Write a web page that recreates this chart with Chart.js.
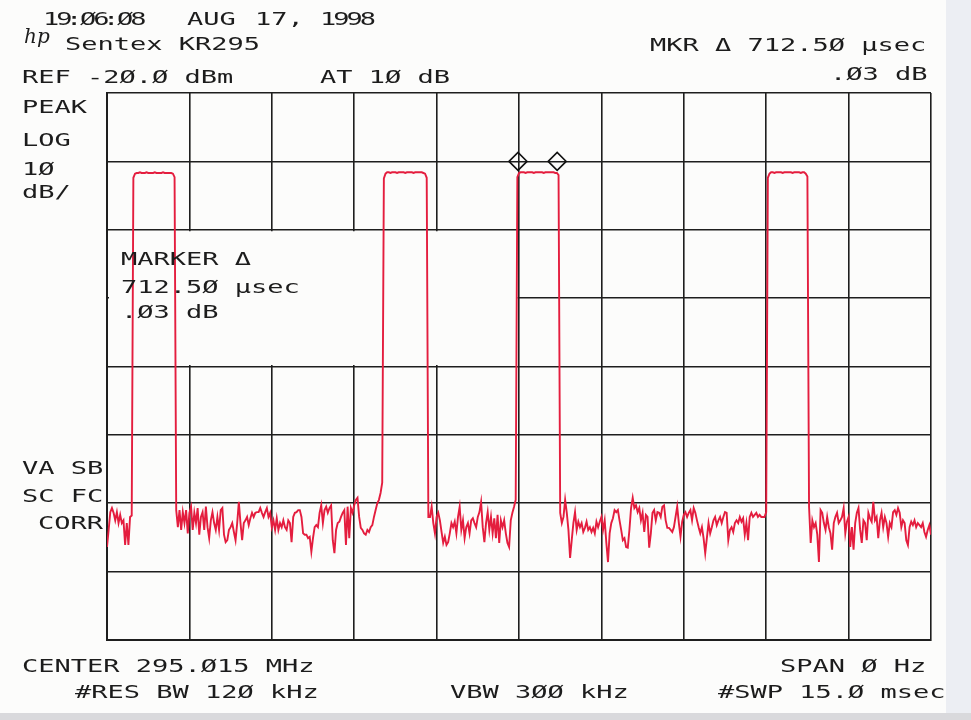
<!DOCTYPE html>
<html>
<head>
<meta charset="utf-8">
<script src="https://cdn.jsdelivr.net/npm/chart.js@4/dist/chart.umd.min.js"></script>
<style>
  html, body { margin:0; padding:0; background:#fcfcfb; }
  #wrap { position:relative; width:971px; height:720px; overflow:hidden; background:#fcfcfb; }
  #strip { position:absolute; left:946px; top:0; width:25px; height:720px; background:#eceef3; }
  #bottom { position:absolute; left:0; top:713px; width:971px; height:7px; background:#d9d9dc; }
  canvas { position:absolute; left:0; top:0; }
  .lbl { position:absolute; font-family:'DejaVu Sans Mono', monospace; font-size:18px; line-height:18px;
         color:#1c1c1c; white-space:pre; transform:scaleX(1.5); transform-origin:0 0; }
  .tight { letter-spacing:-2px; }
  .logo { position:absolute; font-family:'DejaVu Serif', serif; font-style:italic; font-size:20px; line-height:20px; color:#1c1c1c; }
  .edge { position:absolute; background:#1e1e1e; width:2px; }
</style>
</head>
<body>
<div id="wrap">
  <div id="strip"></div>
  <div id="bottom"></div>
  <canvas id="c" width="971" height="720"></canvas>
</div>
<script>
// ---- Instrument settings ----
const sweepMs = 15;          // #SWP 15.0 msec, SPAN 0 Hz (time domain)
const refLevelDbm = -20;     // REF -20.0 dBm
const dbPerDiv = 10;         // LOG 10 dB/
const xDivisions = 10;
const yDivisions = 8;

// ---- Trace (sweep points), dBm ----
const noiseStart = [-86.4,-83.9,-81.3,-80.7,-81.4,-82.5,-81.3,-82.9,-81.7,-82.9,-82.5,-86.1,-82.9,-86.1,-82.0,-81.8];
const pulse1 = [-32.4,-31.8,-31.7,-31.7,-31.6,-31.7,-31.7,-31.7,-31.6,-31.7,-31.7,-31.7,-31.7,-31.6,-31.7,-31.7,-31.7,-31.7,-31.6,-31.7,-31.7,-31.7,-31.7,-31.7,-31.8,-32.3];
const noiseA = [-81.0,
  -83.5,-81.0,-83.9,-81.3,-82.9,-81.0,-84.4,-81.4,-80.5,-83.9,
  -81.4,-82.9,-80.7,-84.6,-82.0,-81.3,-83.9,-80.5,-83.5,-85.1,
  -82.5,-81.3,-82.9,-83.9,-82.0,-83.9,-81.0,-80.7,-84.6,-85.7,
  -85.4,-83.9,-83.5,-82.9,-84.2,-85.4,-82.9,-79.8,-82.9,-85.4,
  -82.9,-82.5,-82.0,-83.2,-82.2,-81.4,-82.0,-81.4,-81.3,-81.3,
  -80.7,-81.4,-82.0,-81.3,-80.7,-82.0,-81.4,-83.5,-82.5,-83.9,
  -82.2,-83.9,-82.9,-83.5,-82.5,-83.5,-83.9,-82.5,-82.9,-85.7,
  -82.0,-81.4,-81.3,-81.0,-81.0,-82.0,-84.4,-84.6,-84.6,-85.1,
  -84.9,-87.1,-85.1,-83.5,-83.2,-83.5,-81.4,-80.3,-82.9,-81.0,
  -80.5,-81.4,-80.7,-80.3,-85.4,-87.3,-83.9,-82.9,-82.7,-82.0,
  -81.4,-81.0,-86.1,-80.5,-85.1,-80.7,-81.4,-80.3,-79.5,-79.2,
  -82.0,-83.6,-83.9,-84.4,-84.6,-83.9,-84.2,-83.5,-83.2,-82.0,
  -81.0,-80.0,-79.5,-78.5,
  -77.0];
const pulse2 = [-32.5,-31.8,-31.6,-31.6,-31.7,-31.6,-31.6,-31.6,-31.7,-31.6,-31.6,-31.6,-31.6,-31.7,-31.6,-31.6,-31.6,-31.6,-31.7,-31.6,-31.6,-31.6,-31.6,-31.6,-31.7,-31.8,-32.4];
const noiseB = [-82.0,
  -82.0,-80.5,-82.9,-84.4,-82.0,-81.4,-82.5,-84.2,-85.8,-84.9,
  -86.1,-85.7,-84.4,-82.9,-83.5,-82.7,-84.4,-82.0,-80.5,-83.9,
  -82.5,-85.1,-83.5,-82.9,-84.4,-82.5,-82.2,-82.9,-83.5,-82.0,
  -81.3,-79.8,-83.5,-85.7,-82.9,-81.3,-83.9,-82.0,-84.4,-82.2,
  -85.1,-81.7,-85.8,-82.5,-83.5,-82.5,-84.4,-85.8,-86.4,-82.5,
  -81.4,-80.5,-79.5];
const pulse3 = [-32.3,-31.7,-31.6,-31.6,-31.6,-31.7,-31.6,-31.6,-31.6,-31.6,-31.7,-31.6,-31.6,-31.6,-31.6,-31.6,-31.7,-31.6,-31.6,-31.6,-31.6,-31.6,-31.6,-31.7,-31.7,-32.0];
const noiseC = [
  -81.4,-82.9,-82.0,-79.5,-81.4,-83.9,-88.0,-85.4,-82.9,-81.3,
  -83.9,-82.7,-83.5,-82.9,-84.2,-83.6,-82.7,-83.9,-83.5,-84.2,
  -83.6,-84.4,-82.7,-83.5,-82.7,-82.0,-83.9,-82.5,-85.8,-88.6,
  -84.4,-82.9,-82.2,-81.0,-81.3,-81.0,-82.5,-83.9,-85.4,-85.1,
  -86.4,-86.5,-83.9,-80.7,-79.2,-80.7,-80.3,-81.3,-80.7,-82.5,
  -81.4,-84.2,-81.7,-82.0,-86.5,-84.4,-81.4,-81.0,-82.5,-81.3,
  -81.4,-82.0,-80.5,-80.3,-82.5,-83.6,-83.6,-83.9,-84.2,-83.5,
  -82.0,-80.5,-82.9,-84.9,-82.7,-81.7,-81.3,-82.0,-81.4,-81.0,
  -82.5,-80.7,-81.4,-82.5,-83.5,-84.4,-83.5,-85.1,-87.3,-85.1,
  -82.9,-84.4,-83.5,-82.5,-82.0,-83.2,-82.5,-82.0,-82.9,-82.0,
  -81.3,-81.4,-85.4,-83.9,-83.5,-84.2,-82.9,-82.5,-82.9,-82.0,
  -82.7,-82.2,-84.6,-82.9,-85.4,-82.0,-81.4,-82.0,-81.7,-81.4,
  -82.0,-81.7,-82.0,-82.0,-82.0,-81.3];
const pulse4 = [-32.4,-31.8,-31.6,-31.6,-31.7,-31.6,-31.6,-31.6,-31.6,-31.7,-31.6,-31.6,-31.6,-31.6,-31.6,-31.7,-31.6,-31.6,-31.6,-31.6,-31.7,-31.6,-31.6,-31.8,-32.2];
const noiseD = [-80.5,
  -85.8,-82.5,-83.5,-82.9,-84.6,-88.6,-81.0,-81.4,-82.9,-83.9,
  -82.0,-83.5,-84.4,-86.8,-82.9,-82.0,-81.4,-82.9,-82.5,-82.0,
  -80.7,-84.4,-82.7,-82.0,-86.4,-83.5,-86.8,-82.9,-81.4,-80.7,
  -83.9,-85.8,-82.5,-82.9,-85.4,-81.4,-82.2,-82.7,-79.8,-82.5,
  -82.0,-85.1,-82.5,-81.4,-83.5,-82.0,-82.9,-84.9,-82.9,-83.5,
  -81.3,-81.0,-81.7,-80.7,-81.4,-83.5,-82.5,-82.9,-85.4,-86.1,
  -83.5,-82.7,-83.2,-82.5,-83.5,-82.9,-83.2,-83.5,-82.9,-84.2,
  -84.9,-83.9,-83.2,-84.6];

// ---- Markers (delta marker pair), time in ms ----
const markerTimesMs = [7.482, 8.195];
const markerLevels = [-30.0, -30.0];

// Region blanked by the MARKER Δ annotation (ms / dBm)
const annotBox = { t0: 0, t1: 7.5, dbTop: -40, dbBottom: -60 };

const traceLevels = [].concat(noiseStart, pulse1, noiseA, pulse2, noiseB, pulse3, noiseC, pulse4, noiseD);
const nPts = traceLevels.length;
const tracePoints = traceLevels.map((v, i) => ({ x: i * sweepMs / (nPts - 1), y: v }));
const markerPoints = markerTimesMs.map((t, i) => ({ x: t, y: markerLevels[i] }));

const gridColor = '#1e1e1e';
const wrap = document.getElementById('wrap');
const blankPlugin = {
  id: 'blank',
  beforeDatasetsDraw(chart) {
    const { ctx, chartArea, scales: { x, y } } = chart;
    const l = chartArea.left + 2, r = x.getPixelForValue(annotBox.t1) - 1.5;
    const t = y.getPixelForValue(annotBox.dbTop) + 1.5, b = y.getPixelForValue(annotBox.dbBottom) - 1.5;
    ctx.save(); ctx.fillStyle = '#fcfcfb'; ctx.fillRect(l, t, r - l, b - t); ctx.restore();
  },
  afterDraw(chart) {
    const { chartArea, scales: { y } } = chart;
    const t = y.getPixelForValue(annotBox.dbTop), b = y.getPixelForValue(annotBox.dbBottom);
    let e = document.getElementById('edge');
    if (!e) { e = document.createElement('div'); e.id = 'edge'; e.className = 'edge'; wrap.appendChild(e); }
    e.style.left = (chartArea.left - 1) + 'px';
    e.style.top = (t - 3) + 'px';
    e.style.height = (b - t + 6) + 'px';
  }
};

new Chart(document.getElementById('c'), {
  type: 'line',
  data: {
    datasets: [
      { data: tracePoints, borderColor: '#e41d3e', borderWidth: 1.9, pointRadius: 0, tension: 0, fill: false },
      { type: 'scatter', data: markerPoints, pointStyle: 'rectRot', pointRadius: 9, borderColor: '#111',
        borderWidth: 1.6, backgroundColor: 'rgba(0,0,0,0)', showLine: false }
    ]
  },
  options: {
    responsive: false, animation: false,
    layout: { padding: { left: 107, top: 93, right: 40, bottom: 80 } },
    plugins: { legend: { display: false }, tooltip: { enabled: false } },
    scales: {
      x: { type: 'linear', min: 0, max: sweepMs,
           ticks: { display: false, stepSize: sweepMs / xDivisions },
           grid: { color: gridColor, lineWidth: 1.6, drawTicks: false },
           border: { display: true, color: gridColor, width: 2 } },
      y: { type: 'linear', min: refLevelDbm - dbPerDiv * yDivisions, max: refLevelDbm,
           ticks: { display: false, stepSize: dbPerDiv },
           grid: { color: gridColor, lineWidth: 1.6, drawTicks: false },
           border: { display: true, color: gridColor, width: 2 } }
    }
  },
  plugins: [blankPlugin]
});

// ---- Text annotations (text, left x, capTop y, extra class) ----
const labels = [
  ['19', 43, 12, 'tight'], [':', 66, 12, ''], ['Ø6', 80, 12, 'tight'], [':', 103, 12, ''], ['Ø8', 117, 12, 'tight'],
  ['AUG', 187, 12, ''], ['17,', 255, 12, ''], ['1998', 320, 12, 'tight'],
  ['Sentex KR295', 65, 37, ''],
  ['REF -2Ø.Ø dBm', 22, 70, ''], ['AT 1Ø dB', 320, 70, ''],
  ['MKR Δ 712.5Ø µsec', 650, 38, ''], ['.Ø3 dB', 830, 67, ''],
  ['PEAK', 22, 100, ''], ['LOG', 22, 133, ''], ['1Ø', 22, 162, ''], ['dB/', 22, 185, ''],
  ['VA SB', 22, 461, ''], ['SC FC', 22, 489, ''], ['CORR', 38, 516, ''],
  ['MARKER Δ', 121, 252, ''], ['712.5Ø µsec', 121, 280, ''], ['.Ø3 dB', 121, 305, ''],
  ['CENTER 295.Ø15 MHz', 22, 659, ''], ['SPAN Ø Hz', 780, 659, ''],
  ['#RES BW 12Ø kHz', 75, 685, ''], ['VBW 3ØØ kHz', 450, 685, ''], ['#SWP 15.Ø msec', 718, 685, '']
];
labels.forEach(([t, x, y, cls]) => {
  const d = document.createElement('div');
  d.className = 'lbl' + (cls ? ' ' + cls : ''); d.textContent = t;
  d.style.left = x + 'px'; d.style.top = (y - 2) + 'px';
  wrap.appendChild(d);
});
const logo = document.createElement('div');
logo.className = 'logo'; logo.textContent = 'hp';
logo.style.left = '24px'; logo.style.top = '26px';
wrap.appendChild(logo);
</script>
</body>
</html>
